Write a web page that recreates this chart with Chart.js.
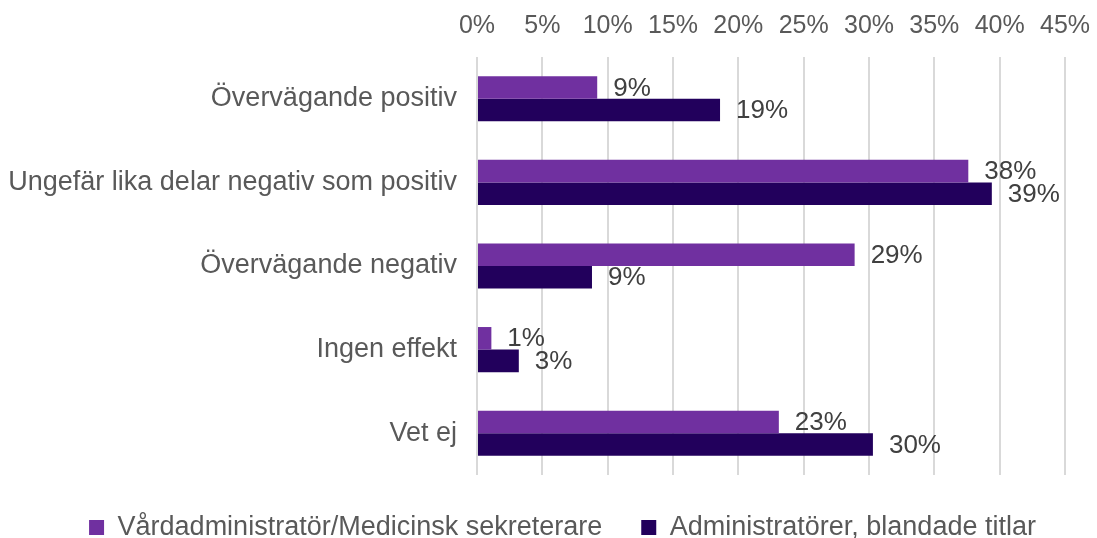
<!DOCTYPE html>
<html>
<head>
<meta charset="utf-8">
<script src="https://cdn.jsdelivr.net/npm/chart.js@4"></script>
<style>
  html, body { margin: 0; padding: 0; background: #fff; }
  #wrap { width: 1097px; height: 538px; position: relative; }
</style>
</head>
<body>
<div id="wrap"><canvas id="chart"></canvas></div>
<script>
const categories = ['Övervägande positiv', 'Ungefär lika delar negativ som positiv', 'Övervägande negativ', 'Ingen effekt', 'Vet ej'];
const vardadmin = [9.2, 37.6, 28.9, 1.1, 23.1];
const administratorer = [18.6, 39.4, 8.8, 3.2, 30.3];
const vardadminLabels = ['9%', '38%', '29%', '1%', '23%'];
const adminLabels = ['19%', '39%', '9%', '3%', '30%'];
const seriesNames = ['Vårdadministratör/Medicinsk sekreterare', 'Administratörer, blandade titlar'];

const FONT = '"Liberation Sans", Arial, sans-serif';

// Value labels right of each bar end
const valueLabels = {
    id: 'valueLabels',
    afterDatasetsDraw(chart) {
        const ctx = chart.ctx;
        const texts = [vardadminLabels, adminLabels];
        ctx.save();
        ctx.font = '26px ' + FONT;
        ctx.fillStyle = '#404040';
        ctx.textBaseline = 'middle';
        ctx.textAlign = 'left';
        chart.data.datasets.forEach((ds, i) => {
            chart.getDatasetMeta(i).data.forEach((bar, j) => {
                ctx.fillText(texts[i][j], bar.x + 16, bar.y + 1);
            });
        });
        ctx.restore();
    }
};

// Fixed legend height and a small shift to the right, as in the reference
const legendPlace = {
    id: 'legendPlace',
    beforeInit(chart) {
        const fit = chart.legend.fit;
        chart.legend.fit = function () {
            fit.call(this);
            this.height = 63;
        };
    },
    afterLayout(chart) {
        chart.legend.left += 30;
        chart.legend.right += 30;
    }
};

new Chart(document.getElementById('chart'), {
    type: 'bar',
    data: {
        labels: categories,
        datasets: [
            { label: seriesNames[0], data: vardadmin, backgroundColor: '#7030A0' },
            { label: seriesNames[1], data: administratorer, backgroundColor: '#22005C' }
        ]
    },
    options: {
        indexAxis: 'y',
        responsive: true,
        maintainAspectRatio: false,
        animation: false,
        layout: { padding: { left: 0, right: 32, top: 0, bottom: 0 } },
        datasets: { bar: { categoryPercentage: 0.54, barPercentage: 1.0 } },
        scales: {
            x: {
                position: 'top',
                min: 0,
                max: 45,
                ticks: {
                    stepSize: 5,
                    callback: v => v + '%',
                    color: '#595959',
                    font: { family: FONT, size: 25 },
                    padding: 16
                },
                grid: { color: '#d9d9d9', lineWidth: 2, drawTicks: false },
                border: { display: false },
                afterFit(scale) {
                    scale.height = 57;
                    scale.paddingLeft = 0;
                    scale.paddingRight = 0;
                }
            },
            y: {
                ticks: {
                    color: '#595959',
                    font: { family: FONT, size: 27 },
                    padding: 20
                },
                grid: { display: false, drawTicks: false },
                border: { display: false },
                afterFit(scale) { scale.width = 477; }
            }
        },
        plugins: {
            legend: {
                position: 'bottom',
                labels: {
                    color: '#595959',
                    font: { family: FONT, size: 27 },
                    boxWidth: 15,
                    boxHeight: 15,
                    padding: 39
                }
            },
            tooltip: { enabled: false }
        }
    },
    plugins: [valueLabels, legendPlace]
});
</script>
</body>
</html>
